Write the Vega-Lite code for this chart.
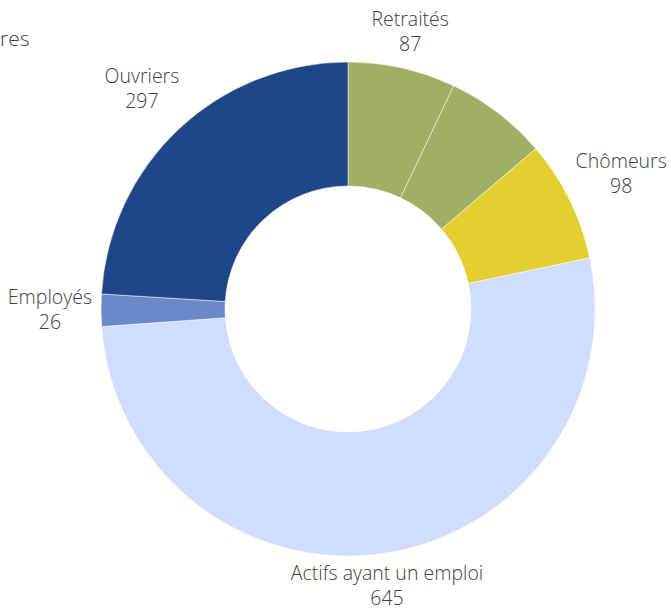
{
  "$schema": "https://vega.github.io/schema/vega-lite/v6.json",
  "autosize": "none",
  "width": 646,
  "height": 598,
  "padding": {"left": 25, "top": 10, "right": 0, "bottom": 0},
  "background": "white",
  "title": {"text": "res", "anchor": "start", "frame": "group", "orient": "top", "offset": -40, "dx": -25, "fontSize": 21, "font": "Open Sans", "fontWeight": 300, "color": "#404040"},
  "config": {"view": {"stroke": null}},
  "data": {"values": [
    {"ordre": 1, "categorie": "Retraités", "valeur": 87},
    {"ordre": 2, "categorie": "Autres", "valeur": 83},
    {"ordre": 3, "categorie": "Chômeurs", "valeur": 98},
    {"ordre": 4, "categorie": "Actifs ayant un emploi", "valeur": 645},
    {"ordre": 5, "categorie": "Employés", "valeur": 26},
    {"ordre": 6, "categorie": "Ouvriers", "valeur": 297}
  ]},
  "transform": [
    {"joinaggregate": [{"op": "sum", "field": "valeur", "as": "total"}]},
    {"calculate": "datum.categorie === 'Autres' ? '' : datum.categorie + '\\n' + datum.valeur", "as": "etiquette"}
  ],
  "encoding": {
    "theta": {"field": "valeur", "type": "quantitative", "stack": true},
    "order": {"field": "ordre", "type": "quantitative"}
  },
  "layer": [
    {
      "mark": {"type": "arc", "outerRadius": 247, "innerRadius": 123, "stroke": "white", "strokeWidth": 0.5},
      "encoding": {
        "color": {"field": "categorie", "type": "nominal", "legend": null,
          "scale": {"domain": ["Retraités", "Autres", "Chômeurs", "Actifs ayant un emploi", "Employés", "Ouvriers"],
                    "range": ["#9fb064", "#9fb064", "#e3cf2f", "#d0ddfe", "#6b89c9", "#1f4788"]}}
      }
    },
    {
      "mark": {"type": "text",
        "radius": {"expr": "243 + abs(sin(PI * (datum.valeur_start + datum.valeur_end) / datum.total)) * min(length(datum.categorie), 10) * 6.87 + abs(cos(PI * (datum.valeur_start + datum.valeur_end) / datum.total)) * 27.6"},
        "dy": -12.5,
        "font": "Open Sans", "fontWeight": 300, "fontSize": 19.5, "lineHeight": 25, "lineBreak": "\n", "color": "#404040", "align": "center", "baseline": "middle"},
      "encoding": {"text": {"field": "etiquette", "type": "nominal"}}
    }
  ]
}
